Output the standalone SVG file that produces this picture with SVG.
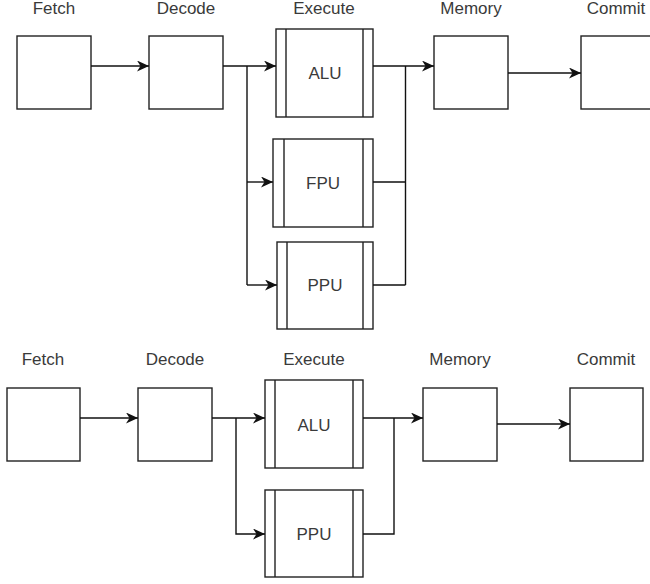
<svg xmlns="http://www.w3.org/2000/svg" width="650" height="584" viewBox="0 0 650 584">
  <style>
    .box { fill: #ffffff; stroke: #222222; stroke-width: 1.4; }
    .div { fill: none; stroke: #222222; stroke-width: 1.4; }
    .wire { fill: none; stroke: #111111; stroke-width: 1.4; }
    .lbl { font-family: "Liberation Sans", Arial, sans-serif; font-size: 17px; fill: #3a3a3a; text-anchor: middle; }
  </style>
  <defs>
    <marker id="arrow" markerUnits="userSpaceOnUse" viewBox="0 0 12 11" refX="12" refY="5.5" markerWidth="12" markerHeight="11" orient="auto">
      <path d="M0,0 L12,5.5 L0,11 L3.5,5.5 Z" fill="#111111"/>
    </marker>
  </defs>
  <rect width="650" height="584" fill="#ffffff"/>

  <!-- Pipeline with three execution units -->
  <g id="pipeline-a">
    <g id="a-fetch">
      <text class="lbl" x="54" y="14">Fetch</text>
      <rect class="box" x="17" y="36" width="74" height="73"/>
    </g>
    <g id="a-decode">
      <text class="lbl" x="186" y="14">Decode</text>
      <rect class="box" x="149" y="36" width="74" height="73"/>
    </g>
    <g id="a-alu">
      <text class="lbl" x="324" y="14">Execute</text>
      <rect class="box" x="276" y="29" width="97" height="88"/>
      <path class="div" d="M286,29 V117 M363,29 V117"/>
      <text class="lbl" x="325" y="79">ALU</text>
    </g>
    <g id="a-fpu">
      <rect class="box" x="273" y="139" width="100" height="88"/>
      <path class="div" d="M284,139 V227 M363,139 V227"/>
      <text class="lbl" x="323" y="189">FPU</text>
    </g>
    <g id="a-ppu">
      <rect class="box" x="277" y="242" width="96" height="87"/>
      <path class="div" d="M287,242 V329 M363,242 V329"/>
      <text class="lbl" x="325" y="291">PPU</text>
    </g>
    <g id="a-memory">
      <text class="lbl" x="471" y="14">Memory</text>
      <rect class="box" x="434" y="36" width="74" height="73"/>
    </g>
    <g id="a-commit">
      <text class="lbl" x="616" y="14">Commit</text>
      <rect class="box" x="581" y="36" width="74" height="73"/>
    </g>
    <g id="a-connectors">
      <path class="wire" d="M91,66 H149" marker-end="url(#arrow)"/>
      <path class="wire" d="M223,66 H276" marker-end="url(#arrow)"/>
      <path class="wire" d="M247,66 V285"/>
      <path class="wire" d="M247,182 H273" marker-end="url(#arrow)"/>
      <path class="wire" d="M247,285 H277" marker-end="url(#arrow)"/>
      <path class="wire" d="M373,66 H434" marker-end="url(#arrow)"/>
      <path class="wire" d="M373,182 H405.5 M373,285 H405.5 M405.5,66 V285"/>
      <path class="wire" d="M508,73 H581" marker-end="url(#arrow)"/>
    </g>
  </g>

  <!-- Pipeline with two execution units -->
  <g id="pipeline-b">
    <g id="b-fetch">
      <text class="lbl" x="43" y="365">Fetch</text>
      <rect class="box" x="7" y="388" width="73" height="73"/>
    </g>
    <g id="b-decode">
      <text class="lbl" x="175" y="365">Decode</text>
      <rect class="box" x="138" y="388" width="74" height="73"/>
    </g>
    <g id="b-alu">
      <text class="lbl" x="314" y="365">Execute</text>
      <rect class="box" x="265" y="380" width="98" height="88"/>
      <path class="div" d="M275,380 V468 M353,380 V468"/>
      <text class="lbl" x="314" y="431">ALU</text>
    </g>
    <g id="b-ppu">
      <rect class="box" x="265" y="490" width="98" height="87"/>
      <path class="div" d="M275,490 V577 M353,490 V577"/>
      <text class="lbl" x="314" y="540">PPU</text>
    </g>
    <g id="b-memory">
      <text class="lbl" x="460" y="365">Memory</text>
      <rect class="box" x="423" y="388" width="74" height="73"/>
    </g>
    <g id="b-commit">
      <text class="lbl" x="606" y="365">Commit</text>
      <rect class="box" x="570" y="388" width="73" height="73"/>
    </g>
    <g id="b-connectors">
      <path class="wire" d="M80,418 H138" marker-end="url(#arrow)"/>
      <path class="wire" d="M212,418 H265" marker-end="url(#arrow)"/>
      <path class="wire" d="M236,418 V534 H265" marker-end="url(#arrow)"/>
      <path class="wire" d="M363,418 H423" marker-end="url(#arrow)"/>
      <path class="wire" d="M363,534 H394 V418"/>
      <path class="wire" d="M497,424 H570" marker-end="url(#arrow)"/>
    </g>
  </g>
</svg>
